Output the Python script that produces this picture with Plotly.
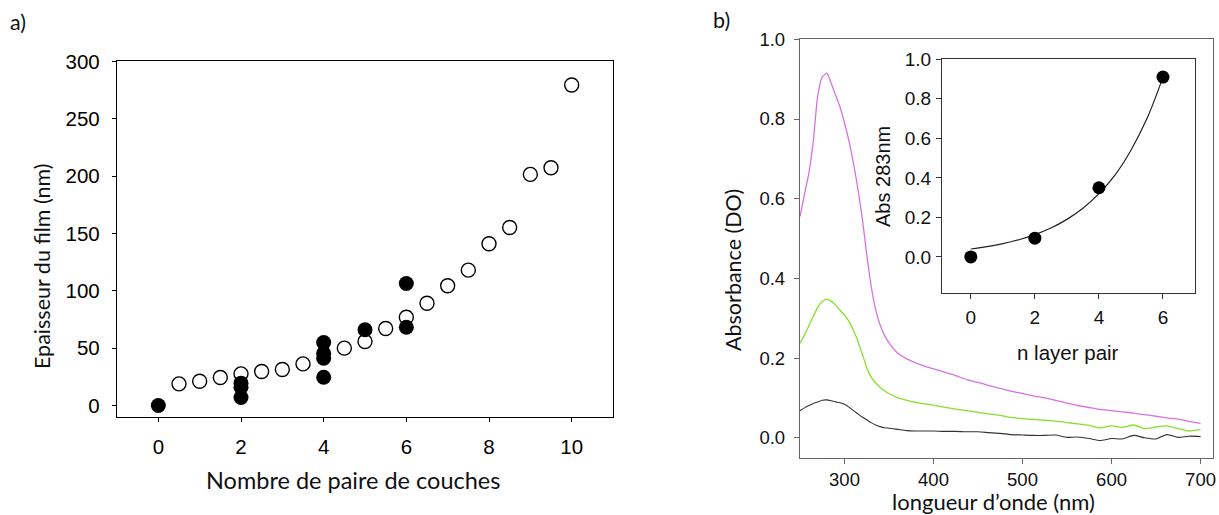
import plotly.graph_objects as go

W, H = 1219, 515

# ---------- panel a) data ----------
open_x = [0.5, 1, 1.5, 2, 2.5, 3, 3.5, 4.5, 5, 5.5, 6, 6.5, 7, 7.5, 8, 8.5, 9, 9.5, 10]
open_y = [18.9, 21.2, 24.4, 27.6, 29.7, 31.4, 36.3, 50, 55.8, 67.2, 77, 89.2, 104.4, 118, 141, 155.2, 201.5, 207.3, 279.4]
filled_x = [0, 2, 2, 2, 4, 4, 4, 4, 5, 6, 6]
filled_y = [0, 19.5, 16, 7, 55, 45.6, 41.3, 24.7, 66, 106.4, 68.3]
a_xticks = [0, 2, 4, 6, 8, 10]
a_yticks = [0, 50, 100, 150, 200, 250, 300]

# ---------- panel b) data ----------
wavelength = [250, 255, 260, 265, 270, 275, 280, 285, 290, 295, 300, 305, 310, 315, 320, 325, 330, 335, 340, 345,
              350, 360, 370, 380, 390, 400, 412, 425, 437, 450, 462, 475, 487, 500, 512, 525, 537, 550, 562, 575,
              587, 600, 612, 625, 637, 650, 662, 675, 687, 700]
abs_6 = [0.555, 0.61, 0.665, 0.745, 0.86, 0.905, 0.915, 0.89, 0.86, 0.83, 0.79, 0.745, 0.69, 0.625, 0.55, 0.46,
         0.38, 0.322, 0.283, 0.257, 0.238, 0.212, 0.198, 0.188, 0.18, 0.173, 0.165, 0.156, 0.146, 0.139, 0.131,
         0.124, 0.117, 0.111, 0.105, 0.1, 0.094, 0.087, 0.081, 0.076, 0.071, 0.068, 0.065, 0.062, 0.058, 0.054,
         0.05, 0.047, 0.041, 0.036]
abs_4 = [0.237, 0.258, 0.281, 0.305, 0.328, 0.342, 0.348, 0.343, 0.333, 0.32, 0.308, 0.292, 0.27, 0.243, 0.21,
         0.176, 0.152, 0.138, 0.127, 0.118, 0.111, 0.1, 0.094, 0.089, 0.085, 0.082, 0.077, 0.072, 0.068, 0.064,
         0.06, 0.056, 0.051, 0.048, 0.046, 0.044, 0.042, 0.038, 0.035, 0.031, 0.025, 0.03, 0.026, 0.032, 0.023,
         0.027, 0.03, 0.023, 0.017, 0.021]
abs_2 = [0.068, 0.075, 0.081, 0.086, 0.09, 0.094, 0.095, 0.093, 0.09, 0.088, 0.084, 0.077, 0.068, 0.06, 0.052,
         0.045, 0.038, 0.032, 0.028, 0.025, 0.024, 0.021, 0.018, 0.017, 0.017, 0.017, 0.016, 0.016, 0.015, 0.015,
         0.013, 0.011, 0.008, 0.007, 0.006, 0.006, 0.007, 0.001, 0.002, -0.002, -0.007, -0.002, -0.003, 0.006,
         0.0, -0.003, 0.008, 0.001, 0.004, 0.003]
b_xticks = [300, 400, 500, 600, 700]
b_yticks = [0.0, 0.2, 0.4, 0.6, 0.8, 1.0]

# ---------- inset data ----------
n_pairs = [0, 2, 4, 6]
abs_283 = [0.0, 0.095, 0.35, 0.91]
fit_x = [0, 0.5, 1, 1.5, 2, 2.5, 3, 3.5, 4, 4.5, 5, 5.5, 6]
fit_y = [0.040, 0.052, 0.067, 0.087, 0.113, 0.146, 0.190, 0.246, 0.320, 0.414, 0.540, 0.700, 0.910]
in_xticks = [0, 2, 4, 6]
in_yticks = [0.0, 0.2, 0.4, 0.6, 0.8, 1.0]


def px_x(p):
    return p / W


def px_y(p):
    return 1 - p / H


fig = go.Figure()

fig.add_trace(go.Scatter(x=open_x, y=open_y, mode="markers", xaxis="x", yaxis="y",
                         marker=dict(size=14, color="white", line=dict(color="black", width=1.4)),
                         showlegend=False))
fig.add_trace(go.Scatter(x=filled_x, y=filled_y, mode="markers", xaxis="x", yaxis="y",
                         marker=dict(size=15, color="black", line=dict(width=0)), showlegend=False))

fig.add_trace(go.Scatter(x=wavelength, y=abs_6, mode="lines", xaxis="x2", yaxis="y2",
                         line=dict(color="#d872e2", width=1.3, shape="spline", smoothing=0.6),
                         showlegend=False))
fig.add_trace(go.Scatter(x=wavelength, y=abs_4, mode="lines", xaxis="x2", yaxis="y2",
                         line=dict(color="#84e02a", width=1.3, shape="spline", smoothing=0.6),
                         showlegend=False))
fig.add_trace(go.Scatter(x=wavelength, y=abs_2, mode="lines", xaxis="x2", yaxis="y2",
                         line=dict(color="#333333", width=1.1, shape="spline", smoothing=0.6),
                         showlegend=False))

fig.add_trace(go.Scatter(x=fit_x, y=fit_y, mode="lines", xaxis="x3", yaxis="y3",
                         line=dict(color="#222222", width=1.2, shape="spline"), showlegend=False))
fig.add_trace(go.Scatter(x=n_pairs, y=abs_283, mode="markers", xaxis="x3", yaxis="y3",
                         marker=dict(size=13, color="black"), showlegend=False))

tick_font_a = dict(family="Liberation Sans, Arial", size=20.5, color="black")
tick_font_b = dict(family="Liberation Sans, Arial", size=18.5, color="#111111")
tick_font_in = dict(family="Liberation Sans, Arial", size=19, color="#111111")

common = dict(showgrid=False, zeroline=False, showline=True, mirror=True, ticks="outside")

fig.update_layout(
    width=W, height=H,
    margin=dict(l=0, r=0, t=0, b=0, pad=0, autoexpand=False),
    paper_bgcolor="white", plot_bgcolor="white",
    xaxis=dict(**common, domain=[px_x(117), px_x(613)], range=[-1, 11], tickvals=a_xticks,
               linecolor="black", linewidth=1.3, tickcolor="black", ticklen=4, tickwidth=1.2,
               tickfont=tick_font_a, anchor="y", ticklabelstandoff=7),
    yaxis=dict(**common, domain=[px_y(417), px_y(61.4)], range=[-10, 300], tickvals=a_yticks,
               linecolor="black", linewidth=1.3, tickcolor="black", ticklen=4, tickwidth=1.2,
               tickfont=tick_font_a, anchor="x", ticklabelstandoff=8),
    xaxis2=dict(**common, domain=[px_x(800), px_x(1213)], range=[250, 714], tickvals=b_xticks,
                linecolor="#666666", linewidth=1.3, tickcolor="#666666", ticklen=5, tickwidth=1.2,
                tickfont=tick_font_b, anchor="y2", ticklabelstandoff=0),
    yaxis2=dict(**common, domain=[px_y(457.7), px_y(39.3)], range=[-0.05, 1.0], tickvals=b_yticks,
                tickformat=".1f", linecolor="#666666", linewidth=1.3, tickcolor="#666666", ticklen=5,
                tickwidth=1.2, tickfont=tick_font_b, anchor="x2", ticklabelstandoff=5),
    xaxis3=dict(**common, domain=[px_x(942), px_x(1195)], range=[-0.9, 7], tickvals=in_xticks,
                linecolor="#333333", linewidth=1.2, tickcolor="#333333", ticklen=5, tickwidth=1.1,
                tickfont=tick_font_in, anchor="y3", ticklabelstandoff=3),
    yaxis3=dict(**common, domain=[px_y(292.5), px_y(59.3)], range=[-0.18, 1.0], tickvals=in_yticks,
                tickformat=".1f", linecolor="#333333", linewidth=1.2, tickcolor="#333333", ticklen=5,
                tickwidth=1.1, tickfont=tick_font_in, anchor="x3", ticklabelstandoff=1),
)

title_h = dict(family="Lato, Open Sans, sans-serif", size=23.5, color="#111111")
title_b = dict(family="Lato, Open Sans, sans-serif", size=22, color="#111111")
title_v = dict(family="Lato, Open Sans, sans-serif", size=21.5, color="#111111")
arial_h = dict(family="Liberation Sans, Arial", size=20.5, color="#111111")
arial_v = dict(family="Liberation Sans, Arial", size=20, color="#111111")


def ann(text, x, y, font, angle=0, xanchor="center", yanchor="middle"):
    fig.add_annotation(text=text, x=px_x(x), y=px_y(y), xref="paper", yref="paper",
                       showarrow=False, font=font, textangle=angle,
                       xanchor=xanchor, yanchor=yanchor)


ann("a)", 8, 22, title_v, xanchor="left")
ann("b)", 711, 20, title_v, xanchor="left")
ann("Epaisseur du film (nm)", 42, 266, title_v, angle=-90)
ann("Nombre de paire de couches", 353, 480, title_h)
ann("Absorbance (DO)", 733, 270, title_v, angle=-90)
ann("longueur d\u2019onde (nm)", 993, 501, title_b)
ann("Abs 283nm", 883, 177, arial_v, angle=-90)
ann("n layer pair", 1068, 352, arial_h)

fig.write_html("out.html", config={"displayModeBar": False},
               post_script="document.body.style.margin='0';document.body.style.overflow='hidden';")
